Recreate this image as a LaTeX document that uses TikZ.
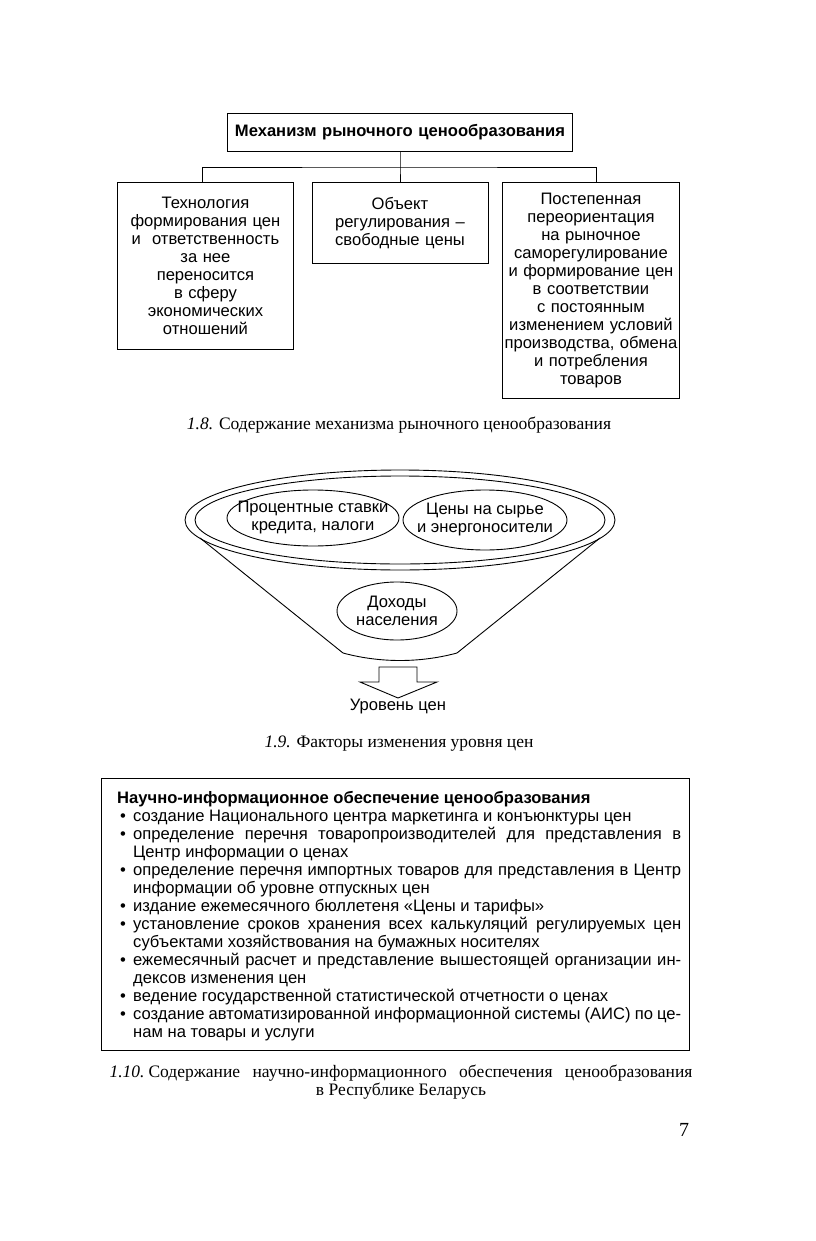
\documentclass[tikz,border=0pt]{standalone}
\usepackage{fontspec}
\setmainfont{Liberation Serif}
\setsansfont{Liberation Sans}
\usepackage{tikz}
\usetikzlibrary{shapes.geometric}
\newcommand{\sans}{\sffamily\fontsize{16.6}{18}\selectfont}
\newcommand{\punkt}[1]{%
  \par\hangindent=16pt\hangafter=1
  \makebox[16pt][l]{\kern3pt\textbullet}#1}

\begin{document}
\begin{tikzpicture}[x=1pt, y=-1pt,
  line/.style={line width=0.9pt},
  box/.style={draw, line width=0.9pt, inner sep=0pt, align=center, font=\sans},
  ovaltext/.style={inner sep=0pt, align=center, font=\sans},
  caption/.style={inner sep=0pt, font=\fontsize{17.5}{18}\selectfont}]

\useasboundingbox (0,0) rectangle (815,1241);

\node[box, font=\sans\bfseries, text width=345pt, minimum height=38pt]
  (mech) at (400,132) {Механизм рыночного ценообразования};
\node[box, anchor=north west, text width=176pt, minimum height=167pt]
  (tech) at (117,182) {Технология\\формирования цен\\и~ ответственность\\за нее\\переносится\\в сферу\\экономических\\отношений};
\node[box, anchor=north, text width=176pt, minimum height=81pt]
  (regul) at (400,182) {Объект\\регулирования --\\свободные цены};
\node[box, anchor=north west, text width=177pt, minimum height=216pt]
  (shift) at (502,182) {Постепенная\\переориентация\\на рыночное\\саморегулирование\\и формирование цен\\в соответствии\\с постоянным\\изменением условий\\производства, обмена\\и потребления\\товаров};

\coordinate (bus) at (400,167);
\draw[line] (mech.south) -- (bus) -- (regul.north);
\draw[line] ([xshift=-3pt]tech.north) |- (bus) -| ([xshift=5pt]shift.north);

\node[caption] (cap8) at (399,425) {\textit{1.8.} Содержание механизма рыночного ценообразования};

\draw[line] (400,520) ellipse [x radius=215, y radius=50];
\draw[line] (400,520) ellipse [x radius=205, y radius=44];
\draw[line] (200,538) -- (343,653) .. controls (380,663) and (420,663) .. (457,653) -- (600,538);

\node[ovaltext] (rates) at (313,518) {Процентные ставки\\кредита, налоги};
\node[ovaltext] (raw) at (485,520) {Цены на сырье\\и энергоносители};
\node[ovaltext] (income) at (397,611) {Доходы\\населения};
\draw[line] (rates) ellipse [x radius=86, y radius=28];
\draw[line] (raw) ellipse [x radius=82, y radius=30];
\draw[line] (income) ellipse [x radius=60, y radius=29];

\coordinate (arr) at (398,667);
\draw[line] (arr) ++(-19,0) -- ++(0,15) -- ++(-19,0) -- (398,698)
  -- ++(39,-16) -- ++(-20,0) -- ++(0,-15) -- cycle;
\node[inner sep=0pt, font=\sans] (level) at (398,707) {Уровень цен};

\node[caption] (cap9) at (399,744) {\textit{1.9.} Факторы изменения уровня цен};

\draw[line] (101,778) rectangle (689,1050);
\node[anchor=north west, inner sep=0pt, text width=564pt, align=justify, font=\sans]
  (info) at (117,791) {%
  \textbf{Научно-информационное обеспечение ценообразования}
  \punkt{создание Национального центра маркетинга и конъюнктуры цен}
  \punkt{определение перечня товаропроизводителей для представления в\linebreak Центр информации о ценах}
  \punkt{определение перечня импортных товаров для представления в Центр\linebreak информации об уровне отпускных цен}
  \punkt{издание ежемесячного бюллетеня «Цены и тарифы»}
  \punkt{установление сроков хранения всех калькуляций регулируемых цен\linebreak субъектами хозяйствования на бумажных носителях}
  \punkt{ежемесячный расчет и представление вышестоящей организации ин-\linebreak дексов изменения цен}
  \punkt{ведение государственной статистической отчетности о ценах}
  \punkt{создание автоматизированной информационной системы (АИС) по це-\linebreak нам на товары и услуги}\par};

\node[caption, align=center] (cap10) at (401,1082)
  {\makebox[583pt][s]{\textit{1.10.}\kern4pt Содержание научно-информационного обеспечения ценообразования}\\
   в Республике Беларусь};

\node[caption, font=\fontsize{20}{22}\selectfont] (page) at (684,1130) {7};

\end{tikzpicture}
\end{document}
